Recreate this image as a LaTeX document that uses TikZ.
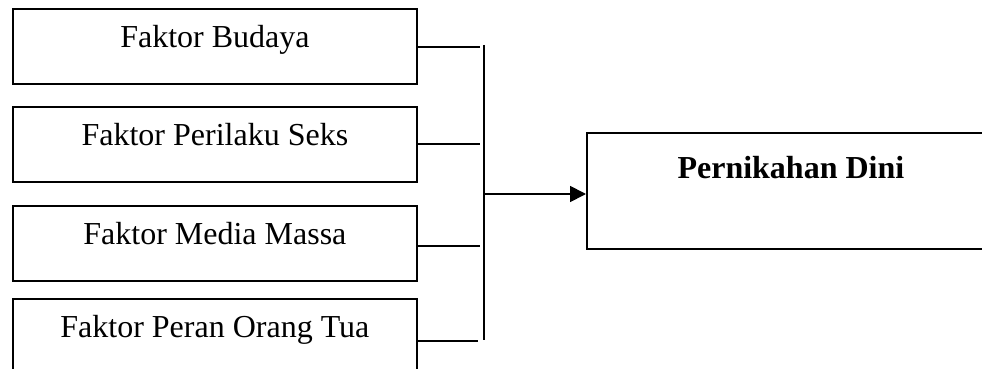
\documentclass[tikz,border=0pt]{standalone}
\usepackage{fontspec}
\setmainfont{Liberation Serif}
\usetikzlibrary{arrows.meta}

\begin{document}
\begin{tikzpicture}[x=1pt, y=-1pt,
        faktor/.style={draw, line width=1.8pt, anchor=north west, minimum width=404pt,
            inner xsep=0pt, inner ysep=0pt, text height=39pt, text depth=36pt,
            font=\fontsize{32}{38}\selectfont},
        hasil/.style={draw, line width=1.8pt, anchor=north west, minimum width=408pt,
            inner xsep=0pt, inner ysep=0pt, text height=46pt, text depth=70pt,
            font=\fontsize{32}{38}\selectfont\bfseries},
        garis/.style={line width=1.8pt}]
        % Page frame
        \useasboundingbox (0,0) rectangle (982,369);

        % Factor boxes
        \node[faktor] (budaya) at (12,8)   {Faktor Budaya};
        \node[faktor] (seks)   at (12,106) {Faktor Perilaku Seks};
        \node[faktor] (media)  at (12,205) {Faktor Media Massa};
        \node[faktor] (ortu)   at (12,298) {Faktor Peran Orang Tua};

        % Result box
        \node[hasil] (nikah) at (586,132) {Pernikahan Dini};

        % Joints on the collecting line
        \coordinate (j1) at (480,47);
        \coordinate (j2) at (480,144);
        \coordinate (j3) at (480,246);
        \coordinate (j4) at (478,341);
        \coordinate (atas)  at (484,45);
        \coordinate (bawah) at (484,340);
        \coordinate (tengah) at (484,194);

        % Branches
        \draw[garis] (budaya.east |- j1) -- (j1);
        \draw[garis] (seks.east |- j2) -- (j2);
        \draw[garis] (media.east |- j3) -- (j3);
        \draw[garis] (ortu.east |- j4) -- (j4);
        \draw[garis] (atas) -- (bawah);

        % Arrow to the result
        \draw[garis, -{Triangle[length=16pt,width=16pt]}] (tengah) -- (nikah.west |- tengah);
    \end{tikzpicture}
\end{document}
